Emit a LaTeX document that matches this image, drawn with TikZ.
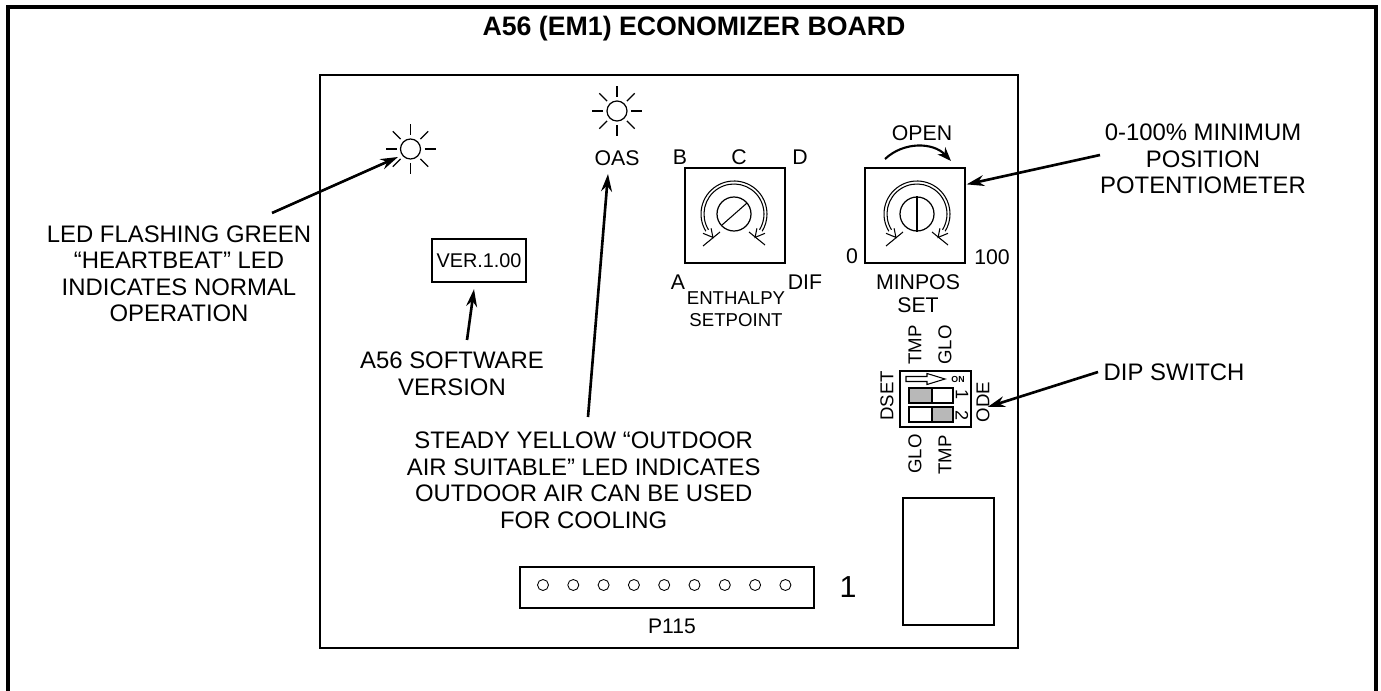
\documentclass[tikz,border=0pt]{standalone}
\usepackage{fontspec}
\setmainfont{Liberation Sans}
\usetikzlibrary{arrows.meta, positioning, calc}

\begin{document}
\begin{tikzpicture}[
        x=0.02cm, y=0.02cm,
        notetext/.style={font=\fontsize{13.6}{15.1}\selectfont, align=center, inner sep=0pt},
        boardtext/.style={font=\fontsize{12.1}{13}\selectfont, align=center, inner sep=0pt},
        smalltext/.style={font=\fontsize{10.6}{12.4}\selectfont, align=center, inner sep=0pt},
        frameline/.style={line width=2pt},
        boardline/.style={line width=1.1pt},
        callout/.style={-{Stealth[length=10pt, width=6.2pt]}, line width=1.5pt},
        lamp/.style={draw, circle, line width=0.7pt, minimum size=20*0.02cm, inner sep=0pt},
        plate/.style={draw, line width=0.7pt, minimum width=2cm, minimum height=1.9cm, inner sep=0pt},
        hole/.style={draw, circle, line width=0.5pt, minimum size=11*0.02cm, inner sep=0pt},
        ledsun/.pic={
            \node[lamp] (-lamp) at (0,0) {};
            \foreach \a in {0,45,...,315}
                \draw[line width=0.7pt] (\a:14) -- (\a:25);
        },
        knobdial/.pic={
            \node[lamp, minimum size=34*0.02cm] (-shaft) at (0,0) {};
            \draw[line width=0.6pt] (212:33) arc[start angle=212, end angle=-32, radius=33];
            \draw[line width=0.6pt] (212:30) arc[start angle=212, end angle=-32, radius=30];
            \draw[line width=0.6pt, fill=white] (212:27) -- (228:31.5) -- (212:36.5);
            \draw[line width=0.6pt, fill=white] (-32:27) -- (-48:31.5) -- (-32:36.5);
            \draw[line width=0.6pt] (-14,-18) -- (-31,-32);
            \draw[line width=0.6pt] (15,-18) -- (31,-31);
        }
    ]
    \useasboundingbox (0,0) rectangle (1381,690);

    % outer frame and board
    \draw[frameline] (8,-5) |- (1376,683) -- (1376,-5);
    \draw[boardline] (320,615) rectangle (1018,42);
    \node[font=\fontsize{15.2}{17}\selectfont\bfseries, inner sep=0pt] (title) at (694,661) {A56 (EM1) ECONOMIZER BOARD};

    % leds
    \pic (hbled) at (410.5,541) {ledsun};
    \pic (oasled) at (617,579) {ledsun};
    \node[boardtext] (oaslabel) at (617,532) {OAS};

    % version
    \node[draw, line width=1.3pt, minimum width=94*0.02cm, minimum height=43*0.02cm, inner sep=0pt,
        font=\fontsize{11.3}{13}\selectfont] (verbox) at (479,429.5) {VER.1.00};

    % enthalpy knob
    \node[plate] (enthplate) at (735,474.5) {};
    \pic (enthknob) at (734,476) {knobdial};
    \draw[line width=0.6pt] ($(enthknob-shaft.center)+(-12,-11)$) -- ($(enthknob-shaft.center)+(13,11)$);
    \node[boardtext] (enthb) at (680,533) {B};
    \node[boardtext] (enthc) at (739,533) {C};
    \node[boardtext] (enthd) at (800,533) {D};
    \node[boardtext] (entha) at (678,408) {A};
    \node[boardtext] (enthdif) at (805,408) {DIF};
    \node[smalltext] (enthname) at (736,381) {ENTHALPY\\SETPOINT};

    % minimum position knob
    \node[plate] (minplate) at (915,474.5) {};
    \pic (minknob) at (917,476) {knobdial};
    \draw[line width=0.6pt] (minknob-shaft.north) -- (minknob-shaft.south);
    \node[boardtext] (openlabel) at (922,557) {OPEN};
    \coordinate (openfrom) at (885,531);
    \coordinate (opento) at (951,529);
    \draw[-{Stealth[length=8pt, width=6pt]}, line width=1.2pt] (openfrom) to[bend left=45] (opento);
    \node[boardtext] (zerolabel) at (852,434) {0};
    \node[boardtext] (hundredlabel) at (992,433) {100};
    \node[boardtext] (minname) at (918,396.5) {MINPOS\\SET};

    % dip switch
    \node[draw, line width=0.7pt, minimum width=71*0.02cm, minimum height=56*0.02cm, inner sep=0pt] (dipbody) at (935.5,291) {};
    \draw[line width=0.6pt] (906,313.5) -- (927,313.5) -- (927,316.5) -- (945,311) -- (927,305.5) -- (927,308.5) -- (906,308.5) -- cycle;
    \node[font=\fontsize{5}{6}\selectfont\bfseries, inner sep=0pt] (diplabel) at (958,311) {ON};
    \draw[line width=0.8pt, fill=black!28] (909,302) rectangle (932,287);
    \draw[line width=0.8pt] (932,302) rectangle (953,287);
    \draw[line width=0.8pt] (909,283) rectangle (932,268);
    \draw[line width=0.8pt, fill=black!28] (932,283) rectangle (953,268);
    \node[font=\fontsize{10.3}{11}\selectfont, rotate=-90, inner sep=0pt] (dipone) at (962,295) {1};
    \node[font=\fontsize{10.3}{11}\selectfont, rotate=-90, inner sep=0pt] (diptwo) at (962,274) {2};
    \node[smalltext, rotate=90] (toptmp) at (915,345) {TMP};
    \node[smalltext, rotate=90] (topglo) at (945,345) {GLO};
    \node[smalltext, rotate=90] (dset) at (887,294) {DSET};
    \node[smalltext, rotate=90] (ode) at (983,288) {ODE};
    \node[smalltext, rotate=90] (lowglo) at (915,236) {GLO};
    \node[smalltext, rotate=90] (lowtmp) at (945,235) {TMP};

    % connector and blank socket
    \draw[line width=0.7pt] (520,123) rectangle (814,82);
    \foreach \n in {0,...,8}
        \node[hole] (pin\n) at (543+\n*30.3,105) {};
    \node[font=\fontsize{17.3}{19}\selectfont, inner sep=0pt] (pinone) at (848,103) {1};
    \node[font=\fontsize{12}{13}\selectfont, inner sep=0pt] (plabel) at (672,64) {P115};
    \draw[line width=0.8pt] (903,192) rectangle (994,65);

    % callouts
    \node[notetext] (hbnote) at (179,416.4) {LED FLASHING GREEN\\``HEARTBEAT'' LED\\INDICATES NORMAL\\OPERATION};
    \node[notetext] (vernote) at (452,316) {A56 SOFTWARE\\VERSION};
    \node[notetext] (oasnote) at (583.7,209.6) {STEADY YELLOW ``OUTDOOR\\AIR SUITABLE'' LED INDICATES\\OUTDOOR AIR CAN BE USED\\FOR COOLING};
    \node[notetext] (potnote) at (1203,531) {0-100\% MINIMUM\\POSITION\\POTENTIOMETER};
    \node[notetext] (dipnote) at (1174,318) {DIP SWITCH};

    \coordinate (hbtail) at (272,477);
    \coordinate (vertail) at (467,350);
    \coordinate (oastail) at (588,273);
    \coordinate (pottail) at (1100,535);
    \coordinate (diptail) at (1098,318);

    \draw[callout] (hbtail) -- ($(hbled-lamp.center)+(-12.5,-8)$);
    \draw[callout] (vertail) -- ($(verbox.south)+(-5,-6)$);
    \draw[callout] (oastail) -- ($(oaslabel.center)+(-9,-16)$);
    \draw[callout] (pottail) -- ($(minplate.north east)+(1,-17)$);
    \draw[callout] (diptail) -- ($(dipbody.east)+(16,-8)$);
\end{tikzpicture}
\end{document}
